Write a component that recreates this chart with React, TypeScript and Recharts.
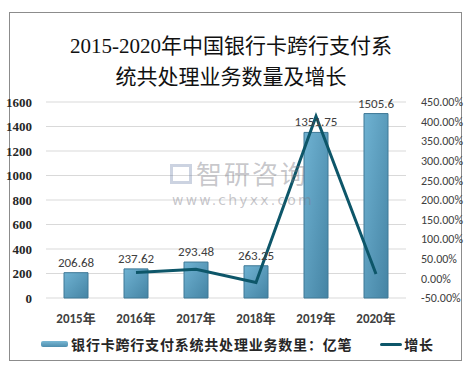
import { ComposedChart, Bar, Line, XAxis, YAxis, CartesianGrid, LabelList, Legend } from "recharts";

const years = ["2015年", "2016年", "2017年", "2018年", "2019年", "2020年"];
const volumes = [206.68, 237.62, 293.48, 263.25, 1351.75, 1505.6];
const growth = [null, 14.97, 23.51, -10.3, 413.49, 11.38];
const leftTicks = [0, 200, 400, 600, 800, 1000, 1200, 1400, 1600];
const rightTicks = [-50, 0, 50, 100, 150, 200, 250, 300, 350, 400, 450];

const data = years.map((year, i) => ({ year, volume: volumes[i], growth: growth[i] }));

const sans = "Calibri, Carlito, 'Open Sans', 'Noto Sans CJK SC', sans-serif";
const serif = "'Liberation Serif', 'DejaVu Serif', 'Noto Sans CJK SC', serif";

function LegendBox() {
  return (
    <div style={{ display: "flex", alignItems: "center", justifyContent: "center", fontFamily: "'Noto Sans CJK SC', sans-serif", fontSize: 14, fontWeight: 700, color: "#262626", letterSpacing: 0.8 }}>
      <span style={{ display: "inline-block", width: 27, height: 6, background: "linear-gradient(#7ab8d4, #4d8dad)", borderRadius: 2, marginRight: 3 }} />
      <span>银行卡跨行支付系统共处理业务数里：亿笔</span>
      <span style={{ display: "inline-block", width: 22, height: 3, background: "#0d5669", borderRadius: 2, marginLeft: 28, marginRight: 2 }} />
      <span>增长</span>
    </div>
  );
}

export default function App() {
  return (
    <div style={{ position: "absolute", left: 0, top: 0, width: 475, height: 370, background: "#fff" }}>
      <div style={{ position: "absolute", left: 9, top: 12, width: 451, height: 347, border: "1px solid #8c8c8c" }} />
      <div style={{ position: "absolute", left: 0, top: 31, width: 462, textAlign: "center", fontFamily: serif, fontSize: 21, lineHeight: "31px", color: "#111" }}>
        2015-2020年中国银行卡跨行支付系
        <br />
        统共处理业务数量及增长
      </div>
      <ComposedChart
        width={475}
        height={370}
        data={data}
        margin={{ top: 102, right: 0, bottom: 48, left: 0 }}
        style={{ position: "absolute", left: 0, top: 0 }}
      >
        <defs>
          <linearGradient id="barFill" x1="0" y1="0" x2="1" y2="1">
            <stop offset="0%" stopColor="#6fb2d2" />
            <stop offset="100%" stopColor="#4584a4" />
          </linearGradient>
        </defs>
        <CartesianGrid vertical={false} stroke="#d9d9d9" yAxisId="left" />
        <XAxis
          dataKey="year"
          axisLine={false}
          tickLine={false}
          height={24}
          tickMargin={10}
          tick={{ fontFamily: sans, fontSize: 13, fontWeight: 700, fill: "#404040" }}
        />
        <YAxis
          yAxisId="left"
          width={46}
          domain={[0, 1600]}
          ticks={leftTicks}
          axisLine={false}
          tickLine={false}
          tickMargin={8}
          tick={{ fontFamily: serif, fontSize: 13, fontWeight: 700, fill: "#262626" }}
        />
        <YAxis
          yAxisId="right"
          orientation="right"
          width={69}
          domain={[-50, 450]}
          ticks={rightTicks}
          axisLine={false}
          tickLine={false}
          tickMargin={9}
          tickFormatter={(v: number) => `${v.toFixed(2)}%`}
          tick={{ fontFamily: sans, fontSize: 12, fill: "#404040" }}
        />
        <Bar yAxisId="left" dataKey="volume" barSize={24} fill="url(#barFill)" stroke="#3e7896" strokeWidth={1} isAnimationActive={false}>
          <LabelList dataKey="volume" position="top" offset={6} style={{ fontFamily: sans, fontSize: 13, fill: "#404040" }} />
        </Bar>
        <Line yAxisId="right" dataKey="growth" stroke="#0d5669" strokeWidth={3} dot={false} isAnimationActive={false} />
        <Legend layout="horizontal" verticalAlign="middle" align="center" wrapperStyle={{ top: 334, left: 0, width: 475 }} content={() => <LegendBox />} />
      </ComposedChart>
      {/* watermark on top of the plot */}
      <div style={{ position: "absolute", left: 170, top: 164, width: 22, height: 20, border: "3px solid rgba(110,130,170,0.35)", boxSizing: "border-box", pointerEvents: "none" }} />
      <div style={{ position: "absolute", left: 196, top: 160, fontFamily: "'Noto Sans CJK SC', sans-serif", fontSize: 26, lineHeight: 1, letterSpacing: 2, color: "rgba(120,120,130,0.42)", pointerEvents: "none" }}>智研咨询</div>
      <div style={{ position: "absolute", left: 172, top: 193, fontFamily: "'DejaVu Sans', sans-serif", fontSize: 14, lineHeight: 1, letterSpacing: 2.2, color: "rgba(120,120,130,0.42)", pointerEvents: "none" }}>www.chyxx.com</div>
    </div>
  );
}
